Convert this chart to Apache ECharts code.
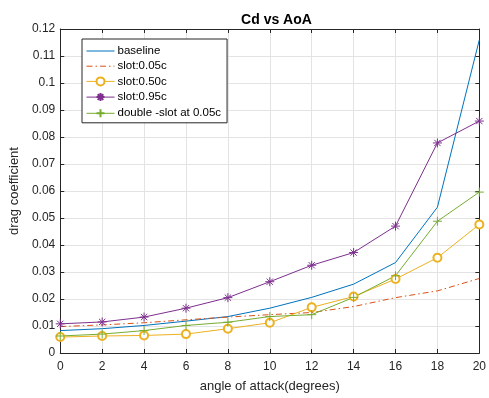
<!DOCTYPE html>
<html><head><meta charset="utf-8">
<script src="https://cdn.jsdelivr.net/npm/echarts@6/dist/echarts.min.js"></script>
<style>html,body{margin:0;padding:0;background:#fff}#c{width:489px;height:398px}</style>
</head><body><div id="c"></div>
<script>
const aoa = [0, 2, 4, 6, 8, 10, 12, 14, 16, 18, 20];
const baseline = [0.0083, 0.0090, 0.0102, 0.0118, 0.0135, 0.0166, 0.0206, 0.0255, 0.0335, 0.0540, 0.1160];
const slot005 = [0.0098, 0.0104, 0.0112, 0.0123, 0.0133, 0.0142, 0.0150, 0.0172, 0.0205, 0.0230, 0.0276];
const slot050 = [0.0059, 0.0063, 0.0065, 0.0070, 0.0090, 0.0112, 0.0169, 0.0209, 0.0274, 0.0353, 0.0476];
const slot095 = [0.0108, 0.0115, 0.0133, 0.0166, 0.0205, 0.0264, 0.0325, 0.0372, 0.0470, 0.0778, 0.0859];
const dslot005 = [0.0063, 0.0070, 0.0083, 0.0102, 0.0114, 0.0135, 0.0142, 0.0206, 0.0286, 0.0488, 0.0596];
const seriesNames = ['baseline', 'slot:0.05c', 'slot:0.50c', 'slot:0.95c', 'double -slot at 0.05c'];
const xTicks = [0, 2, 4, 6, 8, 10, 12, 14, 16, 18, 20];
const yTicks = [0, 0.01, 0.02, 0.03, 0.04, 0.05, 0.06, 0.07, 0.08, 0.09, 0.1, 0.11, 0.12];

const colors = ['#0072BD', '#D95319', '#EDB120', '#7E2F8E', '#77AC30'];
const txt = '#262626';
const ff = '"Liberation Sans", Arial, Helvetica, sans-serif';
const pair = arr => aoa.map((x, i) => [x, arr[i]]);
const starPath = 'path://M5,0L5,10M0,5L10,5M1.5,1.5L8.5,8.5M8.5,1.5L1.5,8.5';
const plusPath = 'path://M5,0L5,10M0,5L10,5';
const dashDot = [6, 3, 1.5, 3];

const chart = echarts.init(document.getElementById('c'), null, {renderer: 'canvas'});
const axisCommon = {
  min: 0,
  axisLine: {show: true, onZero: false, lineStyle: {color: txt, width: 1}},
  axisTick: {show: true, inside: true, length: 4, lineStyle: {color: txt}},
};
const legendData = seriesNames.map((n, i) => {
  const d = {name: n, lineStyle: {width: 1, color: colors[i]}};
  if (i === 1) d.lineStyle.type = dashDot;
  if (i < 2) d.itemStyle = {opacity: 0};
  return d;
});
chart.setOption({
  animation: false,
  backgroundColor: '#fff',
  color: colors,
  title: {
    text: 'Cd vs AoA', left: 271.5, textAlign: 'center', top: 8,
    textStyle: {fontFamily: ff, fontSize: 14, fontWeight: 'bold', color: '#000'}
  },
  grid: {left: 60, right: 6, top: 29, bottom: 43, containLabel: false},
  legend: {
    orient: 'vertical', left: 82, top: 39,
    data: legendData,
    itemWidth: 28, itemHeight: 10, itemGap: 3.2,
    padding: [6, 6, 3, 4],
    borderColor: txt, borderWidth: 1, backgroundColor: '#fff',
    textStyle: {fontFamily: ff, fontSize: 11.5, lineHeight: 12, color: '#000', padding: [0, 0, 0, -2]}
  },
  xAxis: [
    Object.assign({}, axisCommon, {
      type: 'value', max: 20, interval: 2,
      name: 'angle of attack(degrees)', nameLocation: 'middle', nameGap: 27,
      nameTextStyle: {fontFamily: ff, fontSize: 13, color: txt},
      axisLabel: {fontFamily: ff, fontSize: 12, color: txt, margin: 8, showMaxLabel: true},
      splitLine: {show: true, lineStyle: {color: '#e3e3e3', width: 1}}
    }),
    Object.assign({}, axisCommon, {
      type: 'value', max: 20, interval: 2, position: 'top',
      axisLabel: {show: false}, splitLine: {show: false}
    })
  ],
  yAxis: [
    Object.assign({}, axisCommon, {
      type: 'value', max: 0.12, interval: 0.01,
      name: 'drag coefficient', nameLocation: 'middle', nameGap: 34,
      nameTextStyle: {fontFamily: ff, fontSize: 13, color: txt},
      axisLabel: {fontFamily: ff, fontSize: 12, color: txt, margin: 5,
        formatter: v => String(+v.toFixed(2))},
      splitLine: {show: true, lineStyle: {color: '#e3e3e3', width: 1}}
    }),
    Object.assign({}, axisCommon, {
      type: 'value', max: 0.12, interval: 0.01, position: 'right',
      axisLabel: {show: false}, splitLine: {show: false}
    })
  ],
  series: [
    {name: seriesNames[0], type: 'line', data: pair(baseline), symbol: 'none',
      lineStyle: {color: colors[0], width: 1}, itemStyle: {color: colors[0]}},
    {name: seriesNames[1], type: 'line', data: pair(slot005), symbol: 'none',
      lineStyle: {color: colors[1], width: 1, type: dashDot}, itemStyle: {color: colors[1]}},
    {name: seriesNames[2], type: 'line', data: pair(slot050), symbol: 'emptyCircle', symbolSize: 8,
      lineStyle: {color: colors[2], width: 1}, itemStyle: {color: colors[2], borderColor: colors[2], borderWidth: 1}},
    {name: seriesNames[3], type: 'line', data: pair(slot095), symbol: starPath, symbolSize: 9,
      lineStyle: {color: colors[3], width: 1}, itemStyle: {color: 'none', borderColor: colors[3], borderWidth: 1}},
    {name: seriesNames[4], type: 'line', data: pair(dslot005), symbol: plusPath, symbolSize: 9,
      lineStyle: {color: colors[4], width: 1}, itemStyle: {color: 'none', borderColor: colors[4], borderWidth: 1}}
  ]
});
</script></body></html>
